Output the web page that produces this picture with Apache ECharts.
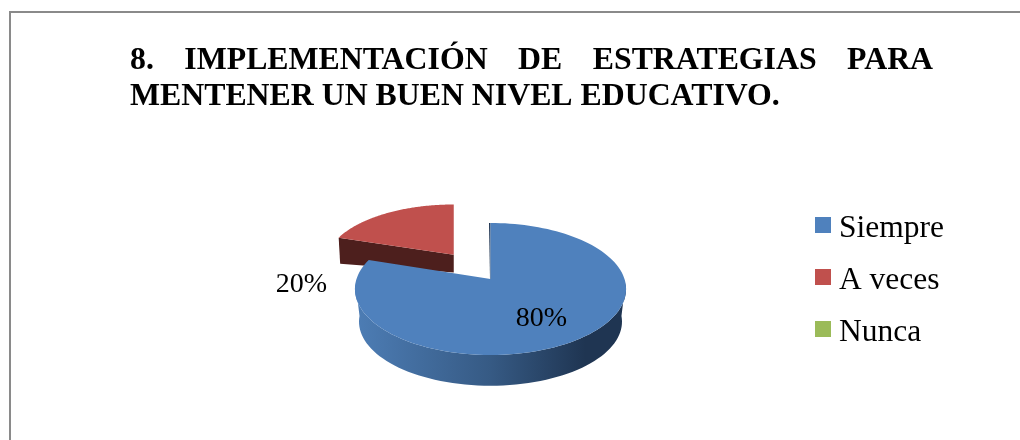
<!DOCTYPE html>
<html>
<head>
<meta charset="utf-8">
<style>html,body{margin:0;padding:0;background:#fff}#c{width:1020px;height:440px}</style>
<script src="https://cdn.jsdelivr.net/npm/echarts@6/dist/echarts.min.js"></script>
</head>
<body>
<div id="c"></div>
<script>
var categories = ['Siempre', 'A veces', 'Nunca'];
var values = [80, 20, 0];
var topColors = ['#4f81bd', '#c0504d', '#9bbb59'];
var titleLine1 = ['8.', 'IMPLEMENTACIÓN', 'DE', 'ESTRATEGIAS', 'PARA'];
var titleLine2 = 'MENTENER UN BUEN NIVEL EDUCATIVO.';

// projection of the tilted disc (style constants, not data)
var CX = 490.5, CY = 279, RX = 134, RY = 64.5, K = 0.1515;
var EXPLODE = [0, 0.495, 0];
var DEPTH = [function (v) { return 24 + 7 * v; }, function (v) { return 7.6 - 25.9 * v; }, function (v) { return 0; }];
var SHRINK = 0.97;
var LABEL_AT = [[541.5, 319], [301.5, 285], null];
var total = values.reduce(function (a, b) { return a + b; }, 0);

function project(u, v, u0, v0) {
  u0 = u0 || 0; v0 = v0 || 0;
  var w = 1 - K * v, w0 = 1 - K * v0;
  return [CX + RX * (u - u0) / w + RX * u0 / w0, CY + RY * v / w];
}
function sliceStart(i) {
  var s = 0;
  for (var j = 0; j < i; j++) s += values[j];
  return s / total * Math.PI * 2;
}
function discPoint(i, ang, r) {
  var a = sliceStart(i), b = a + values[i] / total * Math.PI * 2, m = (a + b) / 2;
  var off = EXPLODE[i];
  return [off * Math.sin(m) + r * Math.sin(ang), -off * Math.cos(m) - r * Math.cos(ang)];
}
function lowerOuter(p) {
  var q = project(p[0], p[1]);
  return [CX + (q[0] - CX) * SHRINK, CY + (q[1] - CY) * SHRINK + 33];
}

function renderSlice(i) {
  return function () {
    var children = [];
    var v = values[i];
    if (!v) return { type: 'group', children: children };
    var a = sliceStart(i), b = a + v / total * Math.PI * 2, n = 120, k;
    var arc = [];
    for (k = 0; k <= n; k++) arc.push(discPoint(i, a + (b - a) * k / n, 1));
    var apex = discPoint(i, a, 0);
    var proj = function (p) { return project(p[0], p[1], apex[0], apex[1]); };
    var topPts = [proj(apex)];
    arc.forEach(function (p) { topPts.push(proj(p)); });

    if (i === 0) {
      // outer wall: only the part that faces the viewer
      var front = arc.filter(function (p) { return p[1] > 0.05; });
      var up = front.map(proj);
      var dn = front.map(lowerOuter).reverse();
      children.push({
        type: 'polygon',
        shape: { points: up.concat(dn) },
        style: {
          fill: {
            type: 'linear', x: 0, y: 0, x2: 1, y2: 0,
            colorStops: [
              { offset: 0, color: '#4d7db5' },
              { offset: 0.5, color: '#365a84' },
              { offset: 0.85, color: '#1f3552' },
              { offset: 1, color: '#1f3552' }
            ]
          }
        }
      });
      // inner wall at the start of the slice, seen as a sliver
      var s0 = proj(arc[0]);
      children.push({
        type: 'polygon',
        shape: { points: [[s0[0], s0[1]], topPts[0], [topPts[0][0] - 0.5, topPts[0][1]], [s0[0] - 1.5, s0[1]]] },
        style: { fill: '#1f3552' }
      });
    } else {
      // wall along the radial edge that closes the slice
      var end = arc[arc.length - 1], start = arc[0];
      var edge = (start[1] > end[1]) ? start : end;
      var pA = proj(apex), pE = proj(edge);
      var qA = [pA[0], pA[1] + DEPTH[i](apex[1])], qE = [pE[0] + 1.5, pE[1] + DEPTH[i](edge[1])];
      children.push({
        type: 'polygon',
        shape: { points: [pA, pE, qE, qA] },
        style: { fill: '#4d1f1d' }
      });
    }
    children.push({ type: 'polygon', shape: { points: topPts }, style: { fill: topColors[i] } });
    if (LABEL_AT[i]) {
      children.push({
        type: 'text', x: LABEL_AT[i][0], y: LABEL_AT[i][1], z2: 10,
        style: {
          text: v + '%', fill: '#000', font: '28px "Liberation Serif"',
          align: 'center', verticalAlign: 'middle'
        }
      });
    }
    return { type: 'group', children: children };
  };
}

var gapRich = { g: { width: 30.5, fontSize: 31.8, fontFamily: 'Liberation Serif', fontWeight: 'bold' } };
var chart = echarts.init(document.getElementById('c'), null, { renderer: 'canvas' });
var order = [1, 0, 2];
chart.setOption({
  animation: false,
  backgroundColor: '#fff',
  title: {
    left: 130, top: 43, itemGap: 0, padding: 0,
    text: titleLine1.join('{g| }') + '\n' + titleLine2,
    textStyle: {
      fontFamily: 'Liberation Serif', fontWeight: 'bold', fontSize: 31.8, color: '#000',
      lineHeight: 36, rich: gapRich
    }
  },
  legend: {
    orient: 'vertical', left: 815, top: 203, padding: 0, itemGap: 8,
    itemWidth: 16, itemHeight: 16, icon: 'rect',
    data: categories,
    formatter: '{t|{name}}',
    textStyle: {
      fontFamily: 'Liberation Serif', fontSize: 31.5, color: '#000', padding: [8, 0, 0, 3], lineHeight: 36,
      rich: { t: { fontFamily: 'Liberation Serif', fontSize: 31.5, color: '#000', lineHeight: 36 } }
    }
  },
  graphic: [{
    type: 'rect', silent: true, z: -1,
    shape: { x: 10, y: 12, width: 1100, height: 600 },
    style: { fill: 'none', stroke: '#8a8a8a', lineWidth: 2 }
  }],
  series: order.map(function (i) {
    return {
      type: 'custom', name: categories[i], coordinateSystem: 'none',
      renderItem: renderSlice(i),
      data: [values[i]],
      itemStyle: { color: topColors[i] },
      silent: true
    };
  })
});
</script>
</body>
</html>
